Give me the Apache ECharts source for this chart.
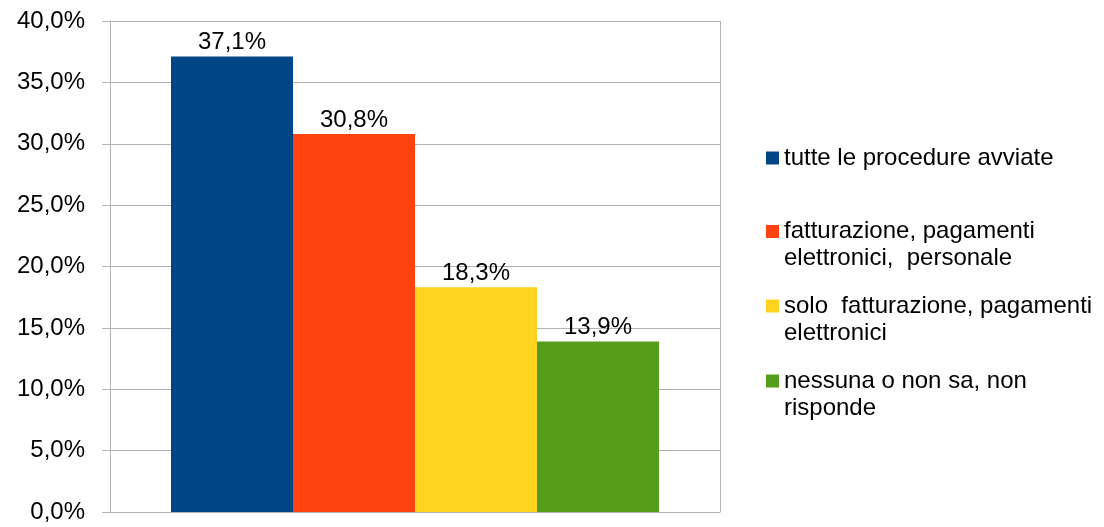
<!DOCTYPE html>
<html><head><meta charset="utf-8">
<script src="https://cdn.jsdelivr.net/npm/echarts@6/dist/echarts.min.js"></script>
<style>html,body{margin:0;padding:0;background:#fff}#c{width:1104px;height:527px}</style>
</head><body><div id="c"></div>
<script>
const categories = [''];
const seriesNames = [
  'tutte le procedure avviate',
  'fatturazione, pagamenti\nelettronici,  personale',
  'solo  fatturazione, pagamenti\nelettronici',
  'nessuna o non sa, non\nrisponde'
];
const seriesValues = [[37.1], [30.8], [18.3], [13.9]];
const colors = ['#004586', '#ff420e', '#ffd320', '#579d1c'];
const yTicks = [0, 5, 10, 15, 20, 25, 30, 35, 40];

const fmt = v => v.toFixed(1).replace('.', ',') + '%';
const FONT = 'Liberation Sans, Arial, sans-serif';
const FS = 24;
const LH = 27;
const legendCenters = [158, 231.5, 306, 381];
// square at top of a taller (invisible-extended) box so it lines up with the first text line
const topSquareIcon = 'path://M0,0L13,0L13,13L0,13Z M13,40L13,40';

const chart = echarts.init(document.getElementById('c'), null, {renderer: 'canvas'});
chart.setOption({
  animation: false,
  grid: {left: 110, right: 384, top: 21, bottom: 15, containLabel: false},
  xAxis: {
    type: 'category', data: categories,
    axisLine: {show: true, lineStyle: {color: '#b3b3b3', width: 1}},
    axisTick: {show: false}, axisLabel: {show: false},
    splitLine: {show: true, lineStyle: {color: '#b3b3b3', width: 1}}
  },
  yAxis: {
    type: 'value', min: yTicks[0], max: yTicks[yTicks.length - 1], interval: 5,
    axisLine: {show: true, lineStyle: {color: '#b3b3b3', width: 1}},
    axisTick: {show: true, length: 8, inside: false, lineStyle: {color: '#b3b3b3'}},
    axisLabel: {formatter: fmt, color: '#000', fontFamily: FONT, fontSize: FS, margin: 25},
    splitLine: {show: true, lineStyle: {color: '#b3b3b3', width: 1}}
  },
  legend: seriesNames.map((n, i) => {
    const multi = n.indexOf('\n') >= 0;
    return {
      data: [n], left: 766, top: legendCenters[i] - LH / 2, orient: 'vertical',
      itemWidth: 13, itemHeight: multi ? 40 : 13, itemGap: 0,
      icon: multi ? topSquareIcon : 'rect',
      padding: 0,
      textStyle: {color: '#000', fontFamily: FONT, fontSize: FS, lineHeight: LH}
    };
  }),
  series: seriesNames.map((n, i) => ({
    name: n, type: 'bar', data: seriesValues[i],
    barGap: '0%', barCategoryGap: '20%',
    itemStyle: {color: colors[i]},
    label: {show: true, position: 'top', distance: 2, formatter: p => fmt(p.value),
      color: '#000', fontFamily: FONT, fontSize: FS}
  }))
});
</script></body></html>
